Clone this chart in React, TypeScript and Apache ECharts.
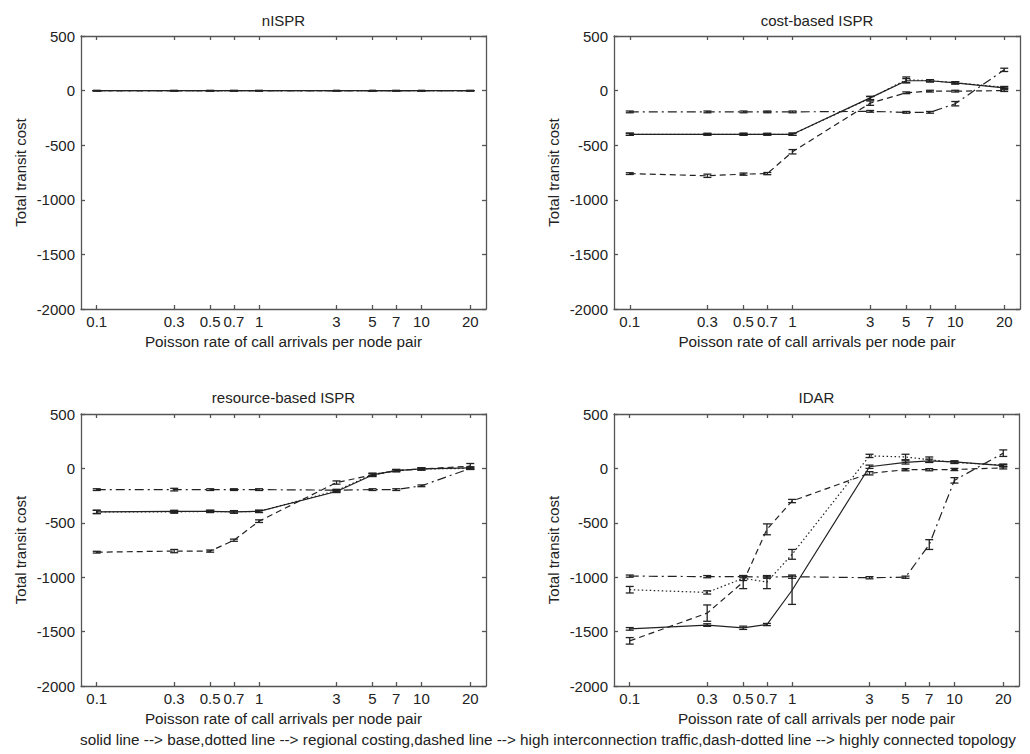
import React, { useEffect, useRef } from "react";
import * as echarts from "echarts";

// ---- axes ----
const xValues = [0.1, 0.3, 0.5, 0.7, 1, 3, 5, 7, 10, 20];
const xTickValues = [0.1, 0.3, 0.5, 0.7, 1, 3, 5, 7, 10, 20];
const xTickLabels = ["0.1", "0.3", "0.5", "0.7", "1", "3", "5", "7", "10", "20"];
const xMin = 0.08;
const xMax = 25;
const yMin = -2000;
const yMax = 500;
const yInterval = 500;

const panelTitles = ["nISPR", "cost-based ISPR", "resource-based ISPR", "IDAR"];
const seriesNames = ["base", "regional costing", "high interconnection traffic", "highly connected topology"];
const xAxisName = "Poisson rate of call arrivals per node pair";
const yAxisName = "Total transit cost";
const footerText =
  "solid line --> base,dotted line --> regional costing,dashed line --> high interconnection traffic,dash-dotted line --> highly connected topology";

// ---- nISPR ----
const nisprBase = [0, 0, 0, 0, 0, 0, 0, 0, 0, 0];
const nisprRegional = [0, 0, 0, 0, 0, 0, 0, 0, 0, 0];
const nisprHighInter = [0, 0, 0, 0, 0, 0, 0, 0, 0, 0];
const nisprHighlyConn = [0, 0, 0, 0, 0, 0, 0, 0, 0, 0];
const nisprErr = [0, 0, 0, 0, 0, 0, 0, 0, 0, 0];

// ---- cost-based ISPR ----
const costBase = [-400, -400, -400, -400, -400, -67, 90, 90, 70, 25];
const costBaseErr = [10, 8, 8, 8, 10, 15, 20, 10, 10, 8];
const costRegional = [-400, -400, -400, -400, -400, -70, 100, 90, 72, 30];
const costRegionalErr = [10, 8, 10, 8, 10, 15, 25, 10, 10, 8];
const costHighInter = [-760, -780, -765, -760, -560, -115, -20, -5, -5, 0];
const costHighInterErr = [8, 15, 10, 10, 20, 20, 8, 8, 8, 8];
const costHighlyConn = [-195, -195, -195, -195, -195, -190, -199, -199, -120, 190];
const costHighlyConnErr = [8, 8, 8, 8, 8, 8, 8, 8, 20, 15];

// ---- resource-based ISPR ----
const resBase = [-400, -395, -395, -400, -395, -212, -60, -20, -5, 5];
const resBaseErr = [15, 10, 10, 10, 10, 10, 15, 10, 10, 10];
const resRegional = [-400, -400, -395, -400, -395, -205, -55, -20, -5, 0];
const resRegionalErr = [15, 12, 10, 12, 10, 10, 10, 10, 10, 10];
const resHighInter = [-770, -760, -760, -660, -485, -130, -60, -20, -5, 20];
const resHighInterErr = [8, 15, 10, 10, 12, 15, 10, 8, 8, 25];
const resHighlyConn = [-195, -195, -195, -195, -195, -200, -195, -195, -160, 0];
const resHighlyConnErr = [8, 12, 8, 8, 8, 8, 8, 8, 8, 8];

// ---- IDAR ----
const idarBase = [-1475, -1440, -1465, -1435, -1120, 15, 55, 70, 60, 25];
const idarBaseErr = [12, 12, 15, 10, 130, 15, 15, 15, 10, 10];
const idarRegional = [-1115, -1140, -1010, -1045, -790, 115, 105, 80, 55, 30];
const idarRegionalErr = [30, 15, 20, 60, 45, 15, 25, 25, 10, 10];
const idarHighInter = [-1585, -1330, -1045, -560, -300, -45, -12, -12, -10, 5];
const idarHighInterErr = [30, 75, 60, 50, 15, 15, 10, 10, 10, 10];
const idarHighlyConn = [-990, -995, -995, -1000, -995, -1005, -1000, -700, -110, 140];
const idarHighlyConnErr = [10, 10, 10, 10, 15, 10, 10, 45, 25, 30];

const panels = [
  { values: [nisprBase, nisprRegional, nisprHighInter, nisprHighlyConn], errors: [nisprErr, nisprErr, nisprErr, nisprErr] },
  { values: [costBase, costRegional, costHighInter, costHighlyConn], errors: [costBaseErr, costRegionalErr, costHighInterErr, costHighlyConnErr] },
  { values: [resBase, resRegional, resHighInter, resHighlyConn], errors: [resBaseErr, resRegionalErr, resHighInterErr, resHighlyConnErr] },
  { values: [idarBase, idarRegional, idarHighInter, idarHighlyConn], errors: [idarBaseErr, idarRegionalErr, idarHighInterErr, idarHighlyConnErr] },
];

// ---- layout & style ----
const FONT = "'Liberation Sans', Arial, sans-serif";
const TEXT = "#222";
const FRAME = "#555";
const LINE = "#222";
const gridRects = [
  { left: 81, top: 36, width: 405, height: 273 },
  { left: 614, top: 36, width: 406, height: 273 },
  { left: 81, top: 414, width: 405, height: 272 },
  { left: 614, top: 414, width: 405, height: 272 },
];
const titleY = [20, 20, 397, 397];
const dashTypes: any[] = ["solid", [1.5, 2.5], [6, 4], [9, 4, 2, 4]];

function buildOption() {
  const lmin = Math.log10(xMin);
  const lmax = Math.log10(xMax);
  const tickPos = xTickValues.map((v) => Math.log10(v));
  const fmt = (v: number) => {
    const i = tickPos.findIndex((p) => Math.abs(p - v) < 1e-6);
    return i >= 0 ? xTickLabels[i] : "";
  };
  const frameStyle = { color: FRAME, width: 1.3 };
  const labelStyle = { fontSize: 15, color: TEXT, fontFamily: FONT };
  const nameStyle = { fontSize: 15.3, color: TEXT, fontFamily: FONT };

  const grid: any[] = [];
  const xAxis: any[] = [];
  const yAxis: any[] = [];
  const series: any[] = [];
  const graphic: any[] = [];

  gridRects.forEach((r, p) => {
    grid.push({ ...r, containLabel: false, outerBoundsMode: "none", show: false });
    xAxis.push({
      gridIndex: p,
      type: "value",
      position: "bottom",
      min: lmin,
      max: lmax,
      axisLine: { show: true, onZero: false, lineStyle: frameStyle },
      axisTick: { show: true, inside: true, length: 4, customValues: tickPos, lineStyle: frameStyle },
      axisLabel: { show: true, customValues: tickPos, formatter: fmt, margin: 5, ...labelStyle },
      splitLine: { show: false },
      name: xAxisName,
      nameLocation: "middle",
      nameGap: 25,
      nameTextStyle: nameStyle,
    });
    xAxis.push({
      gridIndex: p,
      type: "value",
      position: "top",
      min: lmin,
      max: lmax,
      axisLine: { show: true, onZero: false, lineStyle: frameStyle },
      axisTick: { show: true, inside: true, length: 4, customValues: tickPos, lineStyle: frameStyle },
      axisLabel: { show: false },
      splitLine: { show: false },
    });
    yAxis.push({
      gridIndex: p,
      type: "value",
      position: "left",
      min: yMin,
      max: yMax,
      interval: yInterval,
      axisLine: { show: true, onZero: false, lineStyle: frameStyle },
      axisTick: { show: true, inside: true, length: 4, lineStyle: frameStyle },
      axisLabel: { show: true, margin: 6, formatter: (v: number) => String(v), ...labelStyle },
      splitLine: { show: false },
      name: yAxisName,
      nameLocation: "middle",
      nameGap: 53,
      nameTextStyle: labelStyle,
    });
    yAxis.push({
      gridIndex: p,
      type: "value",
      position: "right",
      min: yMin,
      max: yMax,
      interval: yInterval,
      axisLine: { show: true, onZero: false, lineStyle: frameStyle },
      axisTick: { show: true, inside: true, length: 4, lineStyle: frameStyle },
      axisLabel: { show: false },
      splitLine: { show: false },
    });

    const panel = panels[p];
    panel.values.forEach((vals, s) => {
      const errs = panel.errors[s];
      series.push({
        type: "line",
        name: seriesNames[s],
        xAxisIndex: p * 2,
        yAxisIndex: p * 2,
        data: xValues.map((x, i) => [Math.log10(x), vals[i]]),
        symbol: "none",
        showSymbol: false,
        silent: true,
        lineStyle: { color: LINE, width: 1.2, type: dashTypes[s] },
        z: 3,
      });
      series.push({
        type: "custom",
        name: seriesNames[s],
        xAxisIndex: p * 2,
        yAxisIndex: p * 2,
        data: xValues.map((x, i) => [Math.log10(x), vals[i] - errs[i], vals[i] + errs[i]]),
        encode: { x: 0, y: [1, 2] },
        silent: true,
        z: 4,
        renderItem: (params: any, api: any) => {
          const x = api.value(0);
          const lo = api.coord([x, api.value(1)]);
          const hi = api.coord([x, api.value(2)]);
          const w = 4;
          const style = { stroke: LINE, lineWidth: 1.3, fill: "none" };
          return {
            type: "group",
            children: [
              { type: "line", shape: { x1: lo[0], y1: lo[1], x2: hi[0], y2: hi[1] }, style },
              { type: "line", shape: { x1: lo[0] - w, y1: lo[1], x2: lo[0] + w, y2: lo[1] }, style },
              { type: "line", shape: { x1: hi[0] - w, y1: hi[1], x2: hi[0] + w, y2: hi[1] }, style },
            ],
          };
        },
      });
    });

    graphic.push({
      type: "text",
      x: r.left + r.width / 2,
      y: titleY[p],
      style: { text: panelTitles[p], fill: TEXT, fontSize: 15, fontFamily: FONT, align: "center", verticalAlign: "middle" },
    });
  });

  graphic.push({
    type: "text",
    x: 548,
    y: 739,
    style: { text: footerText, fill: TEXT, fontSize: 15.3, fontFamily: FONT, align: "center", verticalAlign: "middle" },
  });

  return {
    animation: false,
    backgroundColor: "#fff",
    textStyle: { fontFamily: FONT },
    grid,
    xAxis,
    yAxis,
    series,
    graphic,
  };
}

export default function App() {
  const ref = useRef<HTMLDivElement>(null);
  useEffect(() => {
    document.body.style.margin = "0";
    if (!ref.current) return;
    const chart = echarts.init(ref.current, undefined, { renderer: "svg" });
    chart.setOption(buildOption() as any);
    return () => chart.dispose();
  }, []);
  return <div ref={ref} style={{ width: 1030, height: 754 }} />;
}
